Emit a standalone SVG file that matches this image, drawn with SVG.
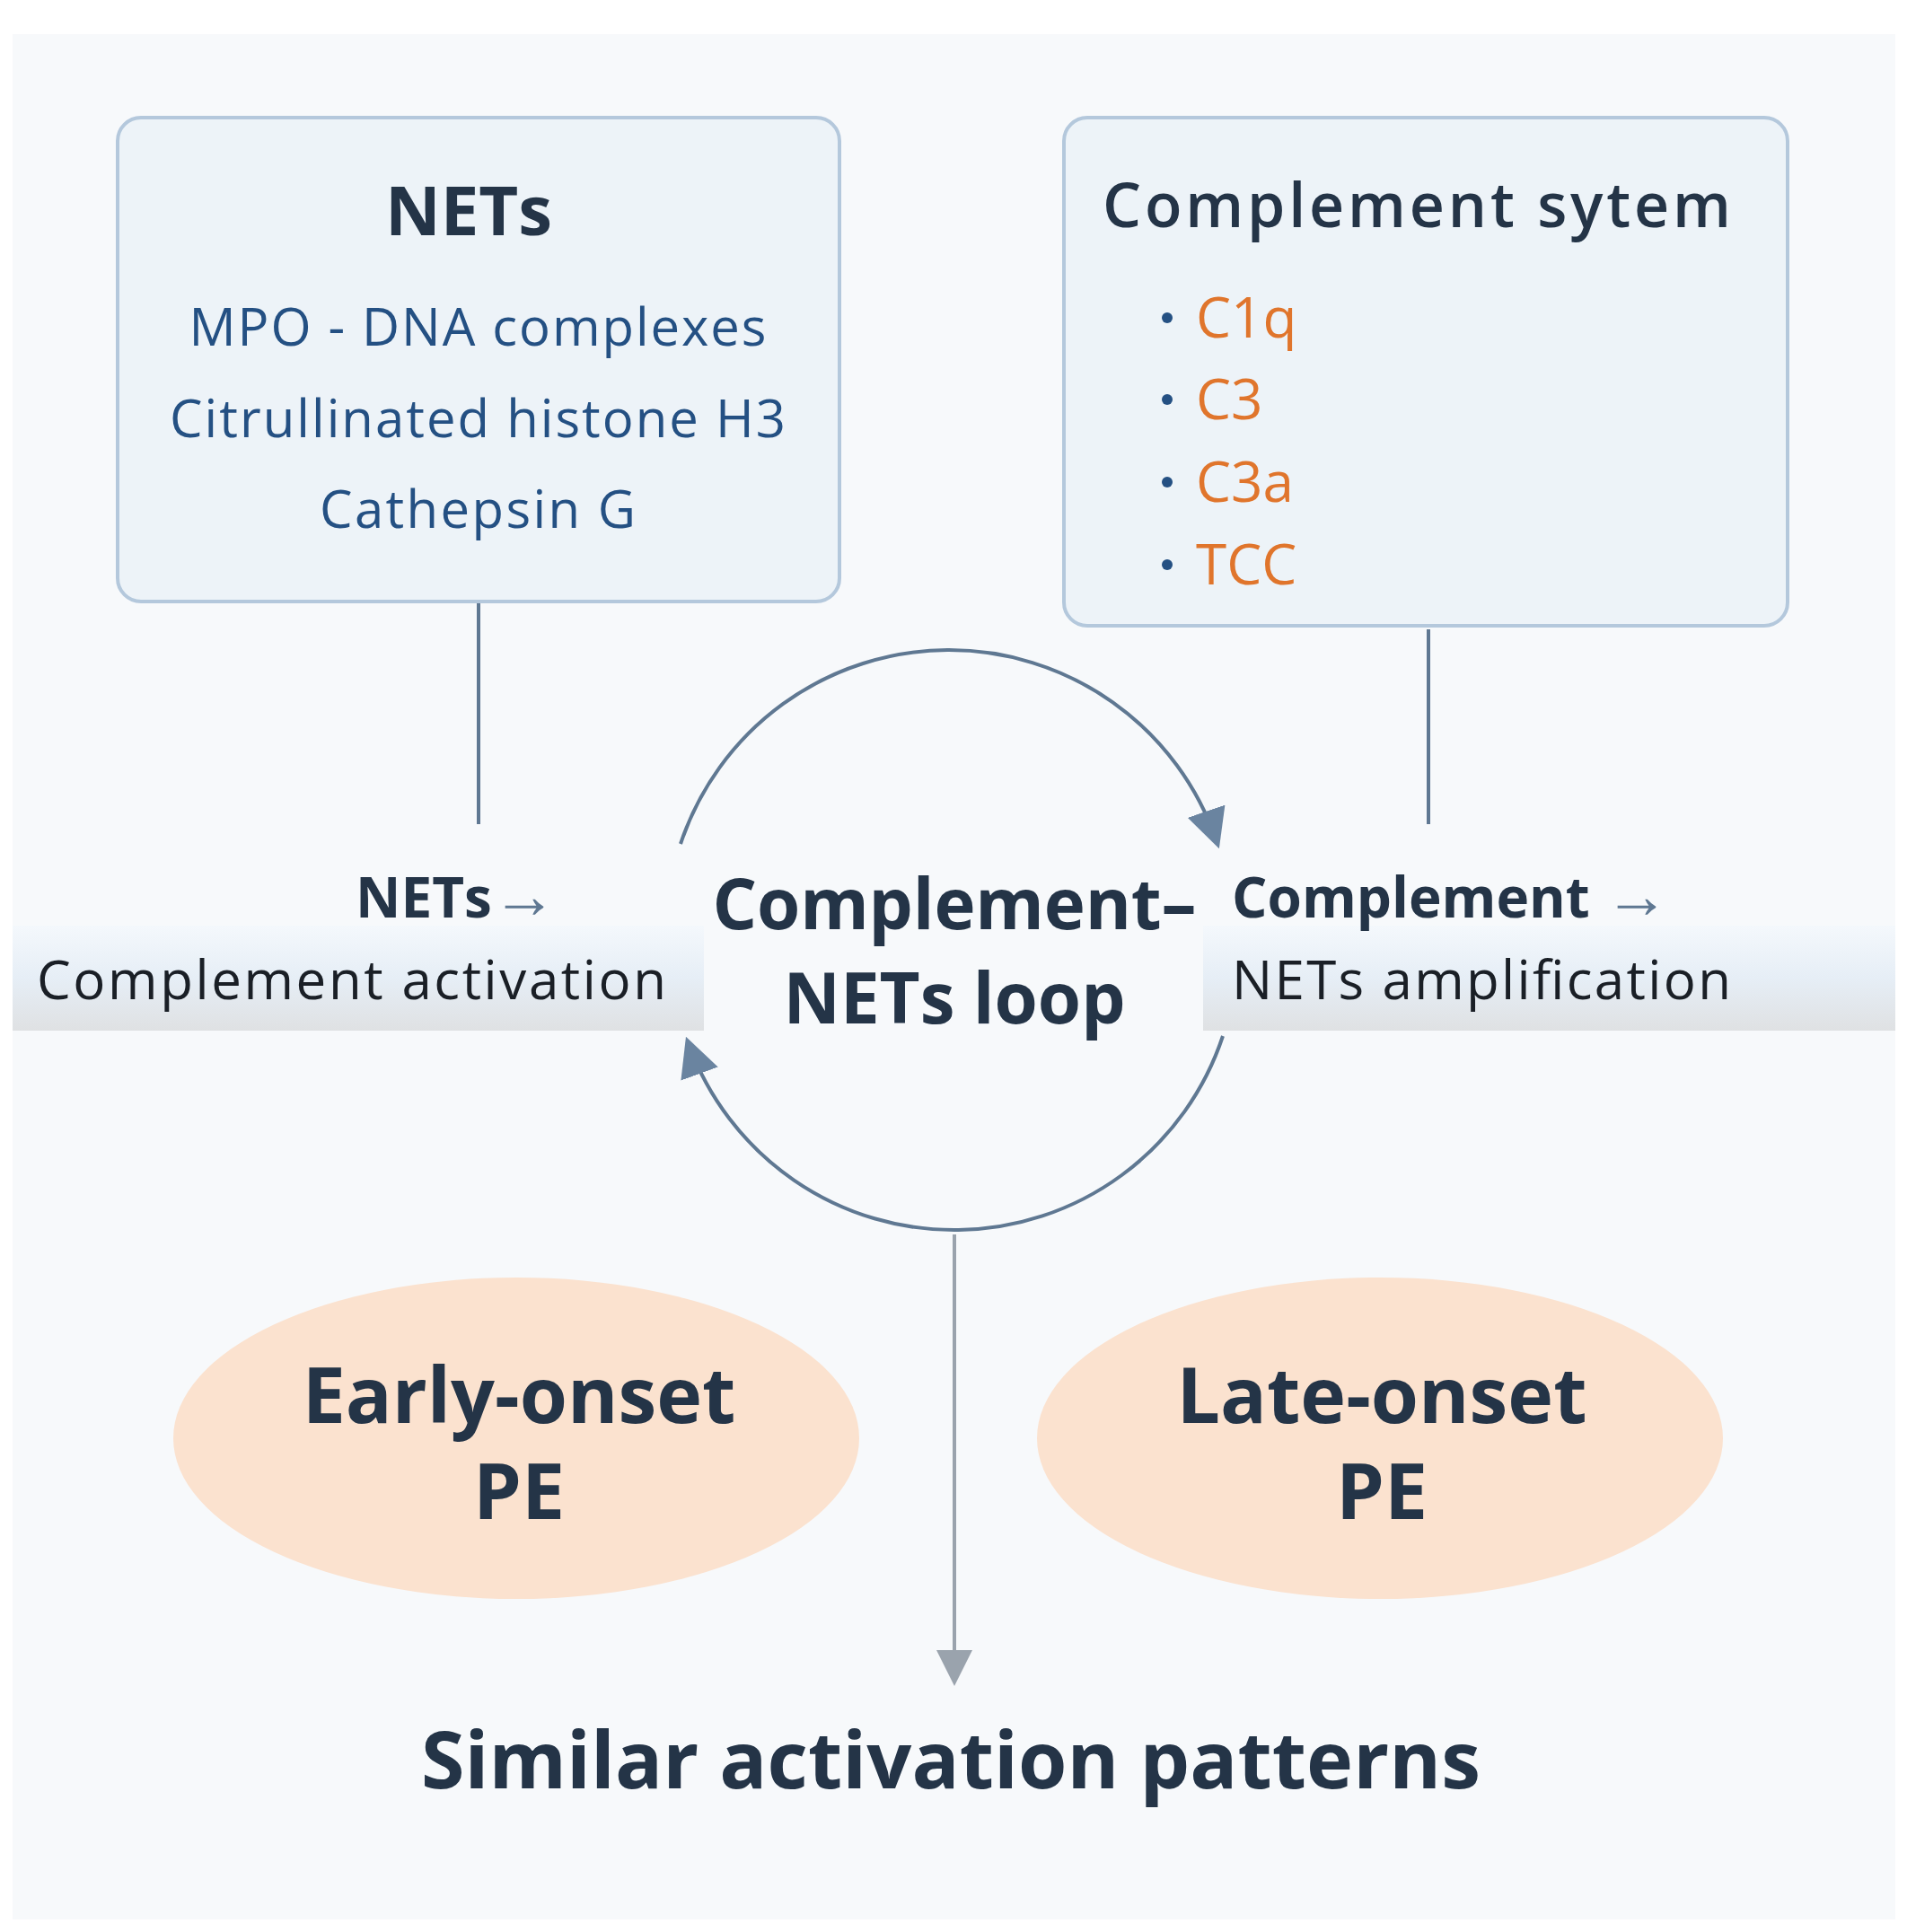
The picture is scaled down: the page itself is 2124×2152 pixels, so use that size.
<svg xmlns="http://www.w3.org/2000/svg" width="2124" height="2152" viewBox="0 0 2124 2152">
<defs>
<style>
text{font-family:"Open Sans","Noto Sans","Liberation Sans",sans-serif}
.box{fill:#edf3f8;stroke:#b4c8dc;stroke-width:4}
.dk{fill:#243447;font-weight:bold}
.bl{fill:#245083;font-size:58px;text-anchor:middle}
.or{fill:#e0752c;font-size:62px}
.dot{fill:#245083}
.lbl{fill:#1a1f26;font-size:60px}
.ell{fill:#fbe2cf}
.conn{fill:none;stroke:#5f7892;stroke-width:4}
</style>
<linearGradient id="band" x1="0" y1="0" x2="0" y2="1">
<stop offset="0" stop-color="#f4f8fc"/><stop offset="0.5" stop-color="#e6eef6"/><stop offset="1" stop-color="#dfe1e3"/>
</linearGradient>
<marker id="ah" viewBox="0 0 10 10" refX="8" refY="5" markerWidth="11" markerHeight="11" orient="auto" markerUnits="strokeWidth"><path d="M0,0L10,5L0,10z" fill="#6a84a0"/></marker>
<marker id="ag" viewBox="0 0 10 10" refX="8" refY="5" markerWidth="10" markerHeight="10" orient="auto" markerUnits="strokeWidth"><path d="M0,0L10,5L0,10z" fill="#9aa3ad"/></marker>
</defs>
<rect width="2124" height="2152" fill="#ffffff"/>
<rect x="14" y="38" width="2097" height="2100" fill="#f7f9fb"/>
<rect x="14" y="1031" width="770" height="117" fill="url(#band)"/>
<rect x="1340" y="1031" width="771" height="117" fill="url(#band)"/>
<g id="connectors">
<line x1="533" y1="670" x2="533" y2="918" class="conn"/>
<line x1="1591" y1="701" x2="1591" y2="918" class="conn"/>
<path d="M758,940 A315,315 0 0 1 1355,937" class="conn" marker-end="url(#ah)"/>
<path d="M1362,1154 A315,315 0 0 1 767,1163" class="conn" marker-end="url(#ah)"/>
<line x1="1063" y1="1375" x2="1063" y2="1870" stroke="#9aa3ad" stroke-width="4" marker-end="url(#ag)"/>
</g>
<g id="nets">
<rect x="131" y="131" width="804" height="539" rx="26" class="box"/>
<text x="522" y="262" class="dk" font-size="76" text-anchor="middle">NETs</text>
<text x="532" y="385" class="bl" textLength="643">MPO - DNA complexes</text>
<text x="532" y="487" class="bl" textLength="686">Citrullinated histone H3</text>
<text x="532" y="588" class="bl" textLength="352">Cathepsin G</text>
</g>
<g id="complement">
<rect x="1185" y="131" width="806" height="566" rx="26" class="box"/>
<text x="1228" y="253" fill="#243447" font-size="68" font-weight="600" textLength="700">Complement sytem</text>
<circle cx="1300" cy="354" r="6" class="dot"/><text x="1332" y="376" class="or">C1q</text>
<circle cx="1300" cy="445" r="6" class="dot"/><text x="1332" y="467" class="or">C3</text>
<circle cx="1300" cy="537" r="6" class="dot"/><text x="1332" y="559" class="or">C3a</text>
<circle cx="1300" cy="629" r="6" class="dot"/><text x="1332" y="651" class="or">TCC</text>
</g>
<g id="left-label">
<text x="396" y="1022" class="dk" font-size="62">NETs<tspan font-weight="normal" fill="#5f7892" font-size="72">→</tspan></text>
<text x="41" y="1113" class="lbl" textLength="701">Complement activation</text>
</g>
<g id="loop">
<text x="1063" y="1035" class="dk" font-size="78" text-anchor="middle" textLength="539">Complement–</text>
<text x="1063" y="1140" class="dk" font-size="78" text-anchor="middle">NETs loop</text>
</g>
<g id="right-label">
<text x="1372" y="1022" class="dk" font-size="62">Complement <tspan font-weight="normal" fill="#5f7892" font-size="72">→</tspan></text>
<text x="1372" y="1113" class="lbl" textLength="556">NETs amplification</text>
</g>
<g id="early">
<ellipse cx="575" cy="1602" rx="382" ry="179" class="ell"/>
<text x="578" y="1585" class="dk" font-size="86" text-anchor="middle">Early-onset</text>
<text x="578" y="1692" class="dk" font-size="86" text-anchor="middle">PE</text>
</g>
<g id="late">
<ellipse cx="1537" cy="1602" rx="382" ry="179" class="ell"/>
<text x="1539" y="1585" class="dk" font-size="86" text-anchor="middle">Late-onset</text>
<text x="1539" y="1692" class="dk" font-size="86" text-anchor="middle">PE</text>
</g>
<g id="similar">
<text x="1059" y="1992" class="dk" font-size="88" text-anchor="middle" textLength="1180">Similar activation patterns</text>
</g>
</svg>
